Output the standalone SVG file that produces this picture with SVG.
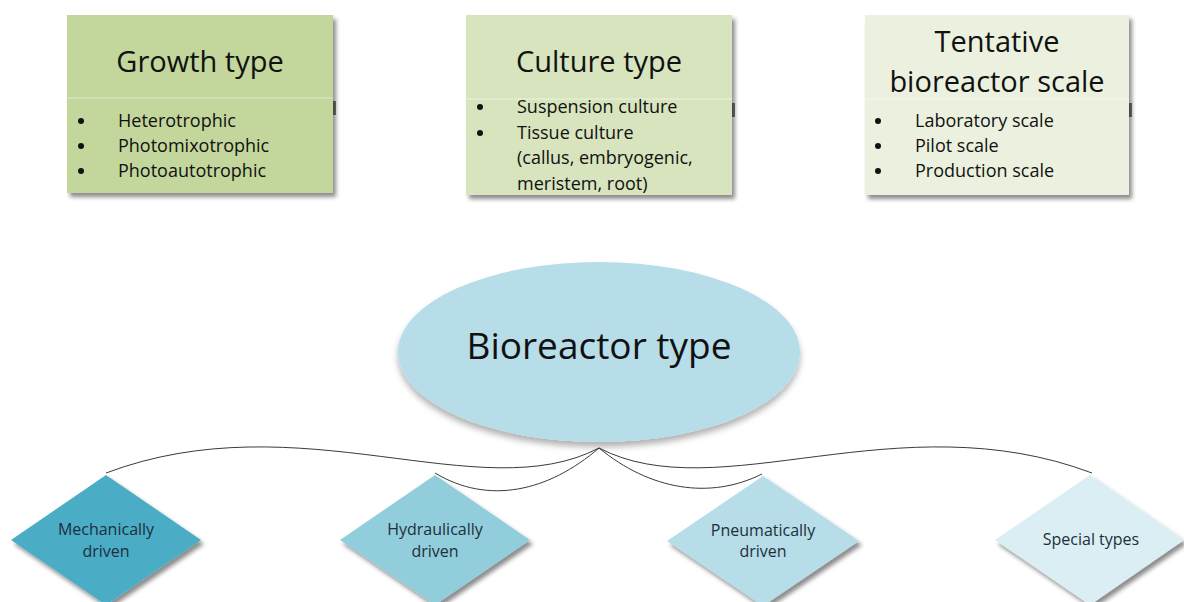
<svg xmlns="http://www.w3.org/2000/svg" width="1184" height="602" viewBox="0 0 1184 602">
<defs>
<style>
.title{font-family:"Open Sans","Liberation Sans",sans-serif;font-size:29px;fill:#111;text-anchor:middle}
.bul{font-family:"Open Sans","Liberation Sans",sans-serif;font-size:18px;fill:#111}
.dtxt{font-family:"Open Sans","Liberation Sans",sans-serif;font-size:16px;fill:#1d2f3b;text-anchor:middle}
.big{font-family:"Open Sans","Liberation Sans",sans-serif;font-size:37px;fill:#111;text-anchor:middle}
.sep{stroke:#ffffff;stroke-opacity:0.35;stroke-width:1.5}
.tab{fill:#555;opacity:0.8}
.conn{fill:none;stroke:#3a3a3a;stroke-width:1}
</style>
<filter id="sh" x="-10%" y="-10%" width="125%" height="130%">
<feDropShadow dx="3" dy="4" stdDeviation="2.2" flood-color="#000" flood-opacity="0.45"/>
</filter>
<filter id="esh" x="-10%" y="-10%" width="120%" height="130%">
<feDropShadow dx="0" dy="5" stdDeviation="3" flood-color="#000" flood-opacity="0.3"/>
</filter>
</defs>
<rect width="1184" height="602" fill="#fff"/>

<g id="growth-type">
<rect class="tab" x="332" y="101" width="4" height="14"/>
<rect x="67" y="15" width="266" height="178" fill="#c3d69b" filter="url(#sh)"/>
<line class="sep" x1="67" y1="98" x2="333" y2="98"/>
<text class="title" x="200" y="72">Growth type</text>
<g class="bul">
<circle cx="81" cy="121" r="3" fill="#111"/>
<circle cx="81" cy="146" r="3" fill="#111"/>
<circle cx="81" cy="171" r="3" fill="#111"/>
<text x="118" y="127">Heterotrophic</text>
<text x="118" y="152">Photomixotrophic</text>
<text x="118" y="177">Photoautotrophic</text>
</g>
</g>

<g id="culture-type">
<rect class="tab" x="731" y="103" width="4" height="14"/>
<rect x="466" y="15" width="266" height="180" fill="#d7e4bd" filter="url(#sh)"/>
<line class="sep" x1="466" y1="99" x2="732" y2="99"/>
<text class="title" x="599" y="72">Culture type</text>
<g class="bul">
<circle cx="480" cy="107" r="3" fill="#111"/>
<circle cx="480" cy="133" r="3" fill="#111"/>
<text x="517" y="113">Suspension culture</text>
<text x="517" y="139">Tissue culture</text>
<text x="517" y="164">(callus, embryogenic,</text>
<text x="517" y="190">meristem, root)</text>
</g>
</g>

<g id="bioreactor-scale">
<rect class="tab" x="1128" y="103" width="4" height="14"/>
<rect x="865" y="15" width="264" height="180" fill="#ebf1de" filter="url(#sh)"/>
<line class="sep" x1="865" y1="99" x2="1129" y2="99"/>
<text class="title" x="997" y="52">Tentative</text>
<text class="title" x="997" y="92">bioreactor scale</text>
<g class="bul">
<circle cx="878" cy="121" r="3" fill="#111"/>
<circle cx="878" cy="146" r="3" fill="#111"/>
<circle cx="878" cy="171" r="3" fill="#111"/>
<text x="915" y="127">Laboratory scale</text>
<text x="915" y="152">Pilot scale</text>
<text x="915" y="177">Production scale</text>
</g>
</g>

<g id="bioreactor-type">
<ellipse cx="599" cy="352" rx="201" ry="90" fill="#b7dde8" filter="url(#esh)"/>
<text class="big" x="599" y="359">Bioreactor type</text>
</g>

<g id="connectors">
<path class="conn" d="M599,448 C480,510 300,400 106,473"/>
<path class="conn" d="M599,448 C548,492 488,505 435,473"/>
<path class="conn" d="M599,448 C650,490 710,500 762,474"/>
<path class="conn" d="M599,448 C718,510 898,400 1092,473"/>
</g>

<g id="mechanically-driven">
<polygon points="106,475 201,540 106,605 11,540" fill="#4bacc6" filter="url(#sh)"/>
<text class="dtxt" x="106" y="535">Mechanically</text>
<text class="dtxt" x="106" y="557">driven</text>
</g>

<g id="hydraulically-driven">
<polygon points="435,475 530,540 435,605 340,540" fill="#92cddc" filter="url(#sh)"/>
<text class="dtxt" x="435" y="535">Hydraulically</text>
<text class="dtxt" x="435" y="557">driven</text>
</g>

<g id="pneumatically-driven">
<polygon points="763,476 859,541 763,606 667,541" fill="#b7dde8" filter="url(#sh)"/>
<text class="dtxt" x="763" y="536">Pneumatically</text>
<text class="dtxt" x="763" y="557">driven</text>
</g>

<g id="special-types">
<polygon points="1090,475 1184,540 1090,605 995,540" fill="#dbeef3" filter="url(#sh)"/>
<text class="dtxt" x="1091" y="545">Special types</text>
</g>
</svg>
